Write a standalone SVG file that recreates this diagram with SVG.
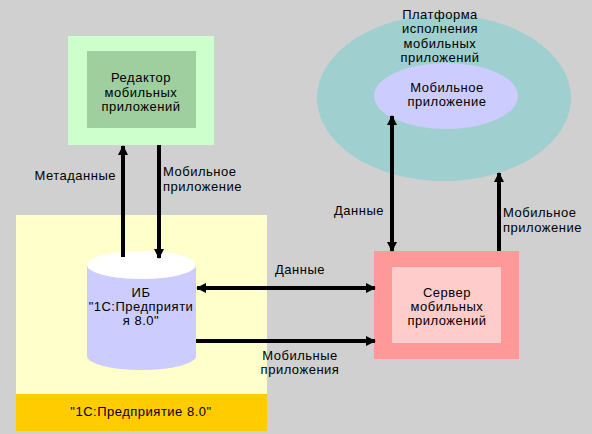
<svg xmlns="http://www.w3.org/2000/svg" width="592" height="434" viewBox="0 0 592 434">
<style>
text{font-family:"Liberation Sans",Arial,sans-serif;font-size:13px;letter-spacing:0.5px;fill:#000}
.c{text-anchor:middle}
.ln{stroke:#000;stroke-width:4;fill:none}
</style>
<defs>
<marker id="ah" viewBox="0 0 10 10" refX="9" refY="5" markerWidth="10" markerHeight="10" markerUnits="userSpaceOnUse" orient="auto-start-reverse">
<path d="M0,0 L10,5 L0,10 Z" fill="#000"/>
</marker>
</defs>
<rect width="592" height="434" fill="#D0D0D0"/>
<g id="platform">
<ellipse cx="444" cy="98" rx="127" ry="83" fill="#9FCFCF"/>
<text class="c" x="440" y="19">Платформа</text>
<text class="c" x="440" y="33">исполнения</text>
<text class="c" x="440" y="48">мобильных</text>
<text class="c" x="440" y="62">приложений</text>
</g>
<g id="mobile-app">
<ellipse cx="446" cy="96" rx="72" ry="33" fill="#CCCCFF"/>
<text class="c" x="447" y="92">Мобильное</text>
<text class="c" x="447" y="106">приложение</text>
</g>
<g id="editor">
<rect x="68" y="36" width="146" height="109" fill="#CCFFCC"/>
<rect x="87" y="51" width="109" height="77" fill="#9FCF9F"/>
<text class="c" x="141" y="82">Редактор</text>
<text class="c" x="141" y="97">мобильных</text>
<text class="c" x="141" y="111">приложений</text>
</g>
<g id="enterprise">
<rect x="16" y="215" width="251" height="179" fill="#FFFFCC"/>
<rect x="16" y="394" width="251" height="37" fill="#FFCC00"/>
<text class="c" x="141" y="416">"1С:Предприятие 8.0"</text>
</g>
<g id="ib">
<path d="M87,265 L87,356 A54.5,14 0 0 0 196,356 L196,265 Z" fill="#CCCCFF"/>
<ellipse cx="141.5" cy="265" rx="54.5" ry="14" fill="#FFFFFF"/>
<text class="c" x="141" y="297">ИБ</text>
<text class="c" x="141" y="311">"1С:Предприяти</text>
<text class="c" x="141" y="325">я 8.0"</text>
</g>
<g id="server">
<rect x="374" y="251" width="145" height="108" fill="#FF9999"/>
<rect x="392" y="267" width="109" height="76" fill="#FFCCCC"/>
<text class="c" x="447" y="297">Сервер</text>
<text class="c" x="447" y="311">мобильных</text>
<text class="c" x="447" y="325">приложений</text>
</g>
<g id="connectors">
<line class="ln" x1="123" y1="257" x2="123" y2="146" marker-end="url(#ah)"/>
<line class="ln" x1="159" y1="145" x2="159" y2="258" marker-end="url(#ah)"/>
<line class="ln" x1="197" y1="288" x2="375" y2="288" marker-start="url(#ah)" marker-end="url(#ah)"/>
<line class="ln" x1="196" y1="341" x2="375" y2="341" marker-end="url(#ah)"/>
<line class="ln" x1="392" y1="116" x2="392" y2="251" marker-start="url(#ah)" marker-end="url(#ah)"/>
<line class="ln" x1="499" y1="251" x2="499" y2="173" marker-end="url(#ah)"/>
<text x="116" y="180" text-anchor="end">Метаданные</text>
<text x="163" y="176">Мобильное</text>
<text x="163" y="191">приложение</text>
<text class="c" x="300" y="274">Данные</text>
<text class="c" x="300" y="360">Мобильные</text>
<text class="c" x="300" y="374">приложения</text>
<text x="384" y="215" text-anchor="end">Данные</text>
<text x="503" y="217">Мобильное</text>
<text x="503" y="232">приложение</text>
</g>
</svg>
